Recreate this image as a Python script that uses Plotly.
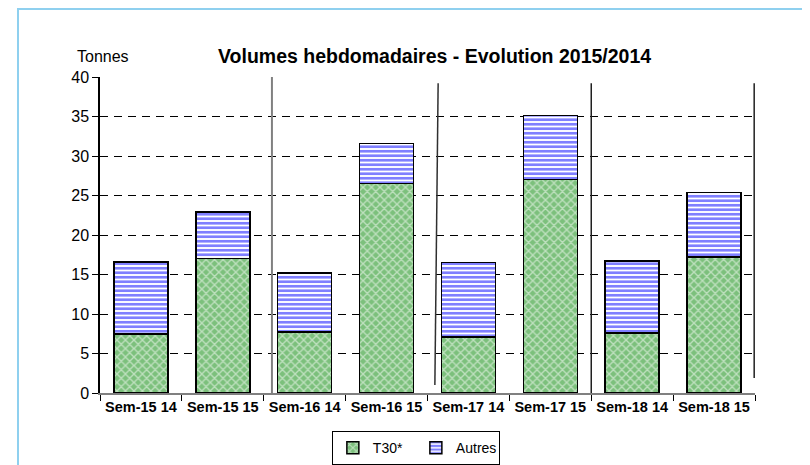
import plotly.graph_objects as go

categories = ["Sem-15 14", "Sem-15 15", "Sem-16 14", "Sem-16 15",
              "Sem-17 14", "Sem-17 15", "Sem-18 14", "Sem-18 15"]
t30 = [7.5, 17.0, 7.7, 26.5, 7.1, 27.0, 7.6, 17.2]
autres = [9.1, 5.9, 7.5, 5.1, 9.4, 8.1, 9.1, 8.2]
y_ticks = [0, 5, 10, 15, 20, 25, 30, 35, 40]

FONT = "Liberation Sans, Arial, sans-serif"

fig = go.Figure()
fig.add_trace(go.Bar(
    x=categories, y=t30, name="T30*",
    marker=dict(color="#8cc98c",
                line=dict(color="black", width=1.5),
                pattern=dict(shape="x", fgcolor="white", bgcolor="#7cc07c",
                             size=6, solidity=0.4)),
))
fig.add_trace(go.Bar(
    x=categories, y=autres, name="Autres",
    marker=dict(color="blue",
                line=dict(color="black", width=1.5),
                pattern=dict(shape="-", fgcolor="#0000ff", bgcolor="white",
                             size=4.5, solidity=0.6)),
))

# separator lines (as drawn in the reference)
seps = [
    (1.60, 1.60, 0.0, 40.6, "#808080", 2),
    (3.63, 3.59, 1.0, 39.2, "#303030", 1.5),
    (5.50, 5.50, 0.0, 39.2, "#202020", 1.5),
    (7.49, 7.49, 1.9, 39.2, "#202020", 1.5),
]
for x0, x1, y0, y1, c, w in seps:
    fig.add_shape(type="line", xref="x", yref="y", x0=x1, x1=x0, y0=y0, y1=y1,
                  line=dict(color=c, width=w), layer="above")

# outer frame
fig.add_shape(type="rect", xref="paper", yref="paper",
              x0=-0.1252, x1=1.0779, y0=-0.3, y1=1.2152,
              line=dict(color="#8fd0ef", width=2), layer="below")

fig.add_annotation(text="<b>Volumes hebdomadaires - Evolution 2015/2014</b>",
                   xref="paper", yref="paper", x=0.51, y=1.0665,
                   xanchor="center", yanchor="middle",
                   showarrow=False, font=dict(size=19.5, color="black", family=FONT))
fig.add_annotation(text="Tonnes", xref="paper", yref="paper", x=0.0046, y=1.0633,
                   xanchor="center", yanchor="middle",
                   showarrow=False, font=dict(size=16, color="black", family=FONT))

fig.update_layout(
    barmode="stack", bargap=0.34,
    width=810, height=465,
    margin=dict(l=92, r=63, t=69, b=80, autoexpand=False),
    paper_bgcolor="white", plot_bgcolor="white",
    font=dict(family=FONT, color="black"),
    showlegend=True,
    legend=dict(orientation="h", x=0.354, xanchor="left",
                yref="container", y=0.09, yanchor="top",
                bordercolor="black", borderwidth=1, font=dict(size=14),
                itemwidth=30, traceorder="normal", entrywidth=38,
                tracegroupgap=0, itemclick=False),
    xaxis=dict(tickfont=dict(size=14.5, family=FONT), tickprefix="<b>", ticksuffix="</b>",
               showline=True, linecolor="#808080", linewidth=2,
               ticks="outside", tickson="boundaries", ticklen=6, tickcolor="black",
               showgrid=False, automargin=False),
    yaxis=dict(range=[0, 40], tickvals=y_ticks, tickfont=dict(size=16, family=FONT),
               showline=True, linecolor="black", linewidth=1.5,
               ticks="outside", ticklen=6, tickcolor="black",
               showgrid=True, gridcolor="black", gridwidth=1, griddash="8px,6px",
               zeroline=False, automargin=False),
)

fig.write_html("out.html")
